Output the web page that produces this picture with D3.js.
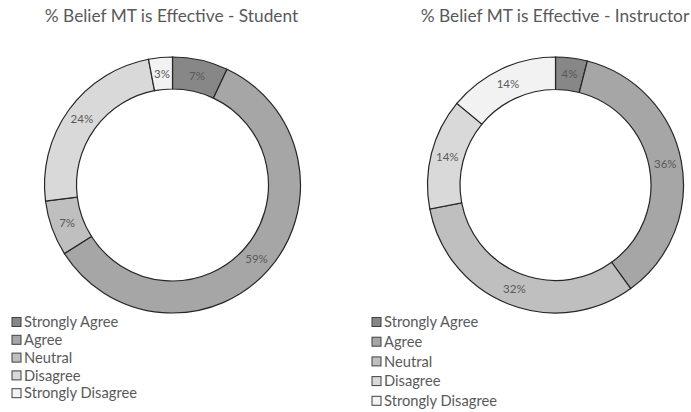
<!DOCTYPE html>
<html><head><meta charset="utf-8">
<script src="https://cdn.jsdelivr.net/npm/d3@7"></script>
<style>body{margin:0;background:#fff}svg{display:block}</style>
</head><body>
<svg id="chart" width="691" height="412"></svg>
<script>
const categories = ["Strongly Agree","Agree","Neutral","Disagree","Strongly Disagree"];
const studentValues = [7,59,7,24,3];
const instructorValues = [4,36,32,14,14];
const titles = ["% Belief MT is Effective - Student","% Belief MT is Effective - Instructor"];
const colors = ["#878787","#a6a6a6","#bfbfbf","#d9d9d9","#f2f2f2"];

const svg = d3.select("#chart");
const font = "Lato, 'Open Sans', sans-serif";
const color = d3.scaleOrdinal().domain(categories).range(colors);

const panels = [
  {values: studentValues, title: titles[0], cx: 172.5, cy: 185, r: 128, ir: 96, tx: 171.5, lx: 12, ly: 322, ldy: 17.8},
  {values: instructorValues, title: titles[1], cx: 555.5, cy: 185, r: 128, ir: 95.5, tx: 555, lx: 372, ly: 322, ldy: 19.7}
];

const pie = d3.pie().sort(null).value(d => d.v);

panels.forEach(p => {
  const data = categories.map((c,i) => ({c, v: p.values[i]}));
  const arc = d3.arc().innerRadius(p.ir).outerRadius(p.r);
  const labelArc = d3.arc().innerRadius((p.r+p.ir)/2).outerRadius((p.r+p.ir)/2);
  svg.append("text").attr("x", p.tx).attr("y", 22).attr("text-anchor","middle")
    .attr("font-family", font).attr("font-size", 17.3).attr("fill","#595959").text(p.title);
  const g = svg.append("g").attr("transform", `translate(${p.cx},${p.cy})`);
  const arcs = pie(data);
  g.selectAll("path").data(arcs).join("path")
    .attr("d", arc).attr("fill", d => color(d.data.c))
    .attr("stroke","#262626").attr("stroke-width",1.2);
  g.selectAll("text").data(arcs).join("text")
    .attr("transform", d => `translate(${labelArc.centroid(d)})`)
    .attr("text-anchor","middle").attr("dy","0.35em")
    .attr("font-family", font).attr("font-size", 11.5).attr("fill","#595959")
    .text(d => d.data.v + "%");
  const lg = svg.append("g");
  categories.forEach((c,i) => {
    const y = p.ly + i*p.ldy;
    lg.append("rect").attr("x", p.lx).attr("y", y-4.5).attr("width", 9).attr("height", 9)
      .attr("fill", color(c)).attr("stroke","#404040").attr("stroke-width",1);
    lg.append("text").attr("x", p.lx+12).attr("y", y).attr("dy","0.35em")
      .attr("font-family", font).attr("font-size", 14.7).attr("fill","#595959").text(c);
  });
});
</script>
</body></html>
